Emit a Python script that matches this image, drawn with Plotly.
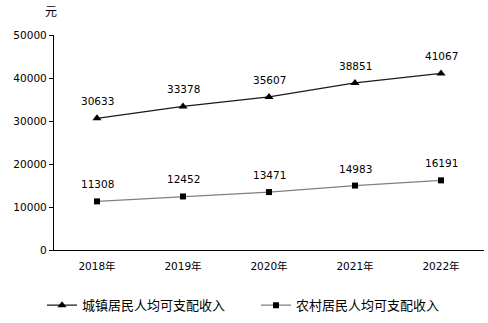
import plotly.graph_objects as go

years = ["2018年", "2019年", "2020年", "2021年", "2022年"]
urban = [30633, 33378, 35607, 38851, 41067]
rural = [11308, 12452, 13471, 14983, 16191]
urban_name = "城镇居民人均可支配收入"
rural_name = "农村居民人均可支配收入"
y_ticks = [0, 10000, 20000, 30000, 40000, 50000]

FONT = "DejaVu Sans, Noto Sans CJK SC, sans-serif"
LEG_FONT = dict(family="Noto Sans CJK SC, sans-serif", size=13, color="#000000")

fig = go.Figure()
fig.add_trace(go.Scatter(
    x=years, y=urban, name=urban_name, mode="lines+markers", legend="legend",
    line=dict(color="#1a1a1a", width=1.3),
    marker=dict(symbol="triangle-up", size=8, color="#000000"),
    cliponaxis=False,
))
fig.add_trace(go.Scatter(
    x=years, y=rural, name=rural_name, mode="lines+markers", legend="legend2",
    line=dict(color="#808080", width=1.3),
    marker=dict(symbol="square", size=6, color="#000000"),
    cliponaxis=False,
))

annotations = []
for series in (urban, rural):
    for yr, v in zip(years, series):
        annotations.append(dict(x=yr, y=v, text=str(v), showarrow=False,
                                yanchor="bottom", yshift=9,
                                font=dict(family=FONT, size=10.5, color="#000000")))
annotations.append(dict(text="元", x=0, xref="paper", xanchor="center", xshift=-3,
                        y=1, yref="paper", yanchor="bottom", yshift=14, showarrow=False,
                        font=dict(family="Noto Sans CJK SC, sans-serif", size=12)))

fig.update_layout(
    width=488, height=323,
    margin=dict(l=54, r=4, t=35, b=73, autoexpand=False),
    paper_bgcolor="white", plot_bgcolor="white",
    font=dict(family=FONT, size=10.5, color="#000000"),
    showlegend=True,
    legend=dict(orientation="h", xref="container", x=42 / 488, xanchor="left",
                yref="container", y=0.055, yanchor="middle", font=LEG_FONT, itemwidth=30),
    legend2=dict(orientation="h", xref="container", x=256 / 488, xanchor="left",
                 yref="container", y=0.055, yanchor="middle", font=LEG_FONT, itemwidth=30),
    xaxis=dict(type="category", range=[-0.5, 4.5], showline=True, linecolor="#000000",
               linewidth=1.3, ticks="", showgrid=False, zeroline=False,
               ticklabelstandoff=6, tickfont=dict(family=FONT, size=10.5)),
    yaxis=dict(range=[0, 50000], tickvals=y_ticks, showline=True, linecolor="#000000",
               linewidth=1.3, ticks="outside", ticklen=4, tickcolor="#000000",
               showgrid=False, zeroline=False, tickformat="d",
               tickfont=dict(family=FONT, size=10.5)),
    annotations=annotations,
)

fig.write_html("out.html")
